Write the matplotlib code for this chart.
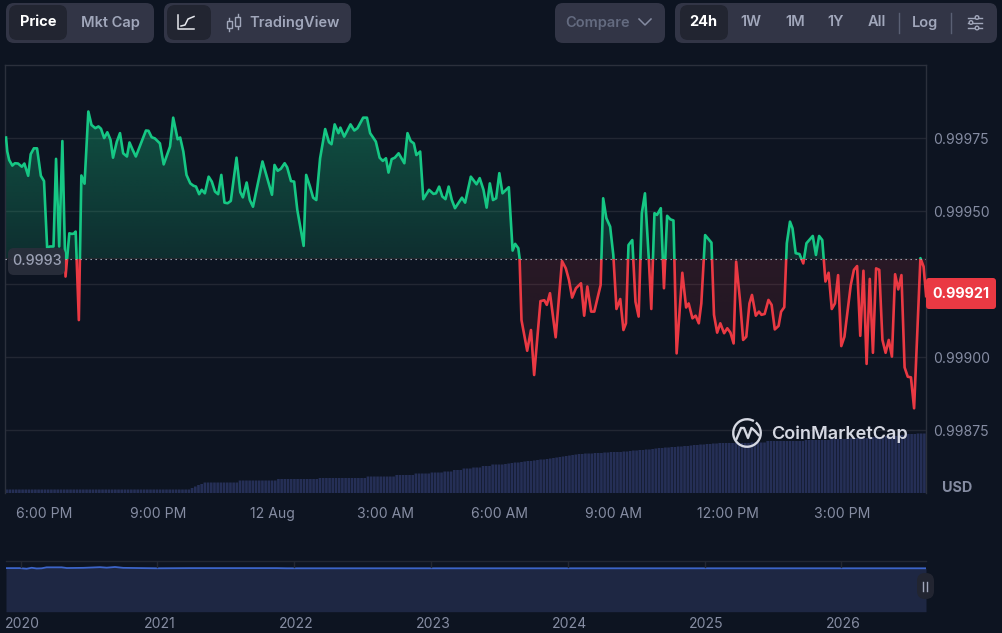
import numpy as np
import matplotlib
matplotlib.use("Agg")
import matplotlib.pyplot as plt
from matplotlib.patches import FancyBboxPatch, Rectangle, PathPatch, Arc, Circle
from matplotlib.transforms import ScaledTranslation
from matplotlib.colors import to_rgb

plt.rcParams['font.family'] = ['Inter', 'DejaVu Sans']

# minutes after 6:00 PM
minutes = [-60,-58,-55,-50,-46,-41,-35,-31,-25,-21,-16,-11,-5,0,5,9,15,19,24,29,34,40,44,47,50,55,59,64,70,75,81,86,90,95,100,105,109,115,120,125,131,135,140,145,161,165,170,175,183,189,
199,204,211,215,220,225,231,236,240,245,249,254,260,265,270,275,280,285,290,295,304,310,314,320,325,330,345,360,364,369,374,380,384,390,395,400,410,414,420,425,430,436,444,450,454,459,465,
468,474,484,490,495,504,510,515,524,530,535,540,544,549,554,560,569,574,579,584,588,594,599,608,615,619,624,629,634,639,644,649,660,665,674,683,688,694,699,704,709,714,719,724,734,740,744,749,751,754,
763,769,774,784,790,794,799,808,818,824,829,834,840,848,853,858,864,869,879,883,888,894,899,904,910,915,919,923,929,934,939,944,949,955,959,964,968,974,
979,984,989,994,999,1008,1014,1018,1024,1029,1034,1038,1044,1054,1058,1063,1068,1074,1079,1084,1089,1093,1099,1104,1109,1114,1118,1124,1129,1133,1138,1144,1149,1154,1160,1164,1169,1173,1178,
1182,1187,1193,1199,1204,1214,1219,1224,1229,1234,1239,1244,1249,1254,1259,1264,1274,1279,1284,1289,1294,1299,1304,1309,1314,1319,1324,1329,1334,1339,1344,1349,1354,1359,1364,1369,1374,1384,1389,1393]

# price, in units of 0.00001 above 0.998
price_tail = [175.3,170.5,167.6,165.7,166.5,166.4,165.3,166.4,162.2,169.6,171.6,171.6,162.2,160.4,137.4,138.0,138.0,168.0,138.0,174.1,127.7,142.5,142.3,142.4,143.1,112.8,162.3,159.5,184.2,179.6,178.5,179.1,178.3,175.1,177.1,174.5,168.4,173.9,176.8,169.9,168.8,173.6,171.1,168.8,177.7,177.6,175.4,175.0,173.3,166.1,
172.2,182.1,174.7,175.3,170.5,162.5,159.6,158.8,158.5,155.9,157.4,156.2,161.9,160.2,156.8,155.9,162.5,153.0,152.8,153.6,168.4,156.6,154.8,159.9,153.9,151.6,167.1,155.7,165.9,163.9,164.6,166.5,165.1,160.4,160.2,150.5,138.2,162.5,158.5,154.7,153.9,168.2,178.2,173.7,173.0,179.8,176.8,
178.7,175.6,179.8,177.7,178.5,182.1,182.1,176.8,173.9,168.4,167.3,168.2,163.3,167.9,168.4,169.9,166.5,176.8,174.1,173.3,169.3,170.5,154.2,157.4,156.0,156.2,158.5,155.1,154.2,158.5,153.9,151.1,154.7,153.0,161.9,159.3,161.4,157.4,151.3,159.6,153.9,154.5,163.1,156.2,158.3,136.6,138.9,137.4,134.0,112.8,
102.3,109.4,94.0,119.3,119.6,118.0,122.0,106.9,133.0,130.5,126.5,120.5,123.7,125.4,114.3,124.3,115.7,115.7,124.8,154.5,147.7,144.8,135.1,116.6,120.0,109.4,111.7,138.5,140.2,119.1,114.0,149.4,156.2,134.0,116.6,149.4,148.8,151.1,
123.7,148.5,147.3,146.9,101.4,129.0,117.1,118.5,113.4,114.3,111.7,118.5,141.9,139.3,114.6,108.5,111.7,108.3,110.0,108.5,104.8,132.8,119.7,106.0,107.1,118.5,121.4,114.3,115.7,114.6,114.9,119.7,118.0,109.6,110.8,115.7,117.2,139.1,146.5,
144.2,135.7,135.4,132.2,139.1,141.6,135.1,141.6,140.2,126.0,129.0,116.6,118.5,128.2,103.9,107.1,124.8,130.0,131.3,107.4,129.7,97.8,126.9,101.6,130.5,130.0,106.0,101.6,106.0,100.3,128.5,123.3,128.2,96.6,93.4,93.2,82.6,134.0,131.1,121.0]

open_tail = 133.8
last_price_label = "0.99921"
open_label = "0.9993"

# volume bars (arbitrary units): level and number of consecutive bars at it
volume_levels = [3.5,5,6.5,8,9,10.5,12.5,14,15,16.5,18,19.5,20.5,21.5,23,24.5,25.5,27,28.5,
 29,29.5,30,30.5,31,31.5,32,32.5,33,33.5,34,34.5,35,35.5,36,36.5,37,37.5,38,38.5,39,39.5,40,40.5,41,41.5,42,42.5,43,43.5,44,44.5,45,45.5,46,46.5,47,47.5,48,48.5,49,49.5,50,50.5,52,53,54,55,56,57,58,59,59.5]
volume_counts = [58,1,1,1,1,11,12,13,15,9,6,5,4,3,3,3,3,3,4,
 1,1,1,2,1,1,2,1,1,2,1,1,1,1,1,1,1,1,1,1,2,3,3,2,4,2,1,2,2,2,1,1,2,2,2,2,2,1,2,2,2,2,10,5,12,8,6,6,5,5,2,3,3]

y_ticks = [0.99875,0.99900,0.99925,0.99950,0.99975]
y_tick_labels = ["0.99875","0.99900","","0.99950","0.99975"]
x_tick_minutes = [0,180,360,540,720,900,1080,1260]
x_tick_labels = ["6:00 PM","9:00 PM","12 Aug","3:00 AM","6:00 AM","9:00 AM","12:00 PM","3:00 PM"]

overview_years = [2019.894,2019.996,2020.045,2020.082,2020.118,2020.155,2020.191,2020.301,2020.338,2020.459,2020.581,2020.63,2020.691,2020.751,2020.996,2021.239,2021.873,2021.946,2026.619]
overview_price = [1.004,1.004,0.990,1.012,0.996,1.0,1.022,1.022,1.006,1.010,1.026,1.014,1.030,1.010,1.0,1.004,1.004,1.0,1.0]
overview_ticks = [2020,2021,2022,2023,2024,2025,2026]

BG = "#0d1421"; GRID = "#222733"; BORDER = "#2b303c"; MUTED = "#858ca2"
GREEN = "#16c784"; RED = "#ea3943"; BAR = "#252f56"
W, H = 1002, 633
fig = plt.figure(figsize=(W/100, H/100), dpi=100, facecolor=BG)

def axes_px(x0, y0, x1, y1, **kw):
    return fig.add_axes([x0/W, 1-y1/H, (x1-x0)/W, (y1-y0)/H], **kw)

# ---- main price axes
ax = axes_px(5, 64.5, 926, 493, facecolor=BG)
t = np.array(minutes, float)
p = 0.998 + np.array(price_tail)*1e-5
base = 0.998 + open_tail*1e-5
xmin, xmax = -61.6, 1392.8
ymin, ymax = 0.998+53.6e-5, 0.998+200.3e-5

# volume on a twin scale
vol = np.repeat(volume_levels, volume_counts)
axv = ax.twinx()
axv.set_ylim(0, 428.5)
axv.axis("off")
ax.set_zorder(axv.get_zorder()+1)
ax.patch.set_visible(False)
axv.patch.set_visible(True); axv.patch.set_facecolor(BG)
step = (xmax-xmin)/len(vol)
bars = axv.bar(xmin+step*(np.arange(len(vol))+.5), vol, width=step*0.82, color=BAR, linewidth=0)
for b in bars:
    b.set_snap(False)
axv.set_xlim(xmin, xmax)

ax.set_xlim(xmin, xmax); ax.set_ylim(ymin, ymax)
ax.set_yticks(y_ticks); ax.set_yticklabels(y_tick_labels)
ax.yaxis.tick_right()
ax.set_xticks(x_tick_minutes); ax.set_xticklabels(x_tick_labels)
ax.tick_params(axis="both", length=0, colors=MUTED, labelsize=10.1)
ax.tick_params(axis="x", pad=9.8)
ax.tick_params(axis="y", pad=5)
ax.grid(axis="y", color=GRID, lw=1); ax.set_axisbelow(True)
for s, sp in ax.spines.items():
    sp.set_color(BORDER); sp.set_linewidth(1); sp.set_visible(s != "bottom")

# gradient areas between the line and the opening price
poly = ax.fill_between(t, p, base, color="none", lw=0)
clip = PathPatch(poly.get_paths()[0], transform=ax.transData, fc="none", ec="none")
ax.add_patch(clip)
def gradient(c, a_top, a_bot, y_top, y_bot):
    n = 128
    g = np.zeros((n, 2, 4)); g[..., :3] = to_rgb(c)
    g[..., 3] = np.linspace(a_top, a_bot, n)[:, None]
    im = ax.imshow(g, extent=(xmin, xmax, y_bot, y_top), aspect="auto", origin="upper", zorder=1.5, interpolation="bilinear")
    im.set_clip_path(clip)
gradient(GREEN, 0.34, 0.15, max(price_tail)*1e-5+0.998, base)
gradient(RED, 0.13, 0.06, base, min(price_tail)*1e-5+0.998)
ax.set_xlim(xmin, xmax); ax.set_ylim(ymin, ymax)

# price line, two colours either side of the opening price
for c, lo, hi in ((GREEN, base, ymax), (RED, ymin, base)):
    ln, = ax.plot(t, p, color=c, lw=1.9, solid_joinstyle="round", zorder=3)
    r = Rectangle((xmin, lo), xmax-xmin, hi-lo, transform=ax.transData)
    ln.set_clip_path(r)
ax.axhline(base, color="#aeb3c0", lw=0.8, ls=(0, (1.2, 3.3)), zorder=4)

# ---- overview axes
ov = axes_px(6, 561, 926, 611.7, facecolor=BG)
ov.set_xlim(overview_years[0], overview_years[-1]); ov.set_ylim(0, 1.168)
ov.fill_between(overview_years, overview_price, 0, color="#1e2743", lw=0)
ov.plot(overview_years, overview_price, color="#3c64c8", lw=1.3)
ov.set_xticks(overview_ticks); ov.set_xticklabels([str(y) for y in overview_ticks])
ov.set_yticks([])
ov.tick_params(axis="x", direction="in", length=0, colors=MUTED, labelsize=10.1, pad=3.5)
for lb in ov.get_xticklabels():
    lb.set_transform(lb.get_transform()+ScaledTranslation(2/100, 0, fig.dpi_scale_trans))
for s, sp in ov.spines.items():
    sp.set_visible(s == "top"); sp.set_color(GRID); sp.set_linewidth(1)
for y in overview_ticks:
    ov.plot([y, y], [1.04, 1.168], color=GRID, lw=1)

# ---- overlay: controls, labels and logo (page furniture)
ui = fig.add_axes([0, 0, 1, 1], zorder=20)
ui.set_xlim(0, W); ui.set_ylim(H, 0); ui.axis("off")

def box(x0, y0, x1, y1, c, r=8, **kw):
    ui.add_patch(FancyBboxPatch((x0+r, y0+r), x1-x0-2*r, y1-y0-2*r,
        boxstyle=f"round,pad={r},rounding_size={r}", fc=c, ec="none", **kw))
PANEL = "#323546"; ACTIVE = "#222531"; SOFT = "#a1a7bb"
def label(x, y, s, c=SOFT, size=10.5, w=600, ha="center", **kw):
    ui.text(x, y, s, color=c, fontsize=size, fontweight=w, ha=ha, va="center", **kw)

box(6, 3, 154, 43, PANEL); box(9, 5, 67, 40, ACTIVE)
label(38, 22.5, "Price", "#ffffff", w=700); label(110, 22.5, "Mkt Cap")
box(164, 3, 351, 43, PANEL); box(167, 5, 211, 40, ACTIVE)
label(249, 22.5, "TradingView", ha="left")
box(555, 3, 665, 43, PANEL)
label(565, 22.5, "Compare", "#646b80", ha="left")
ui.plot([639, 645, 651], [19, 25, 19], color="#858ca2", lw=1.1)
box(675, 3, 997, 43, PANEL); box(680, 5, 728, 40, ACTIVE)
label(703, 22.5, "24h", "#ffffff", w=700)
for x, s in zip([751, 795, 836, 877, 925], ["1W", "1M", "1Y", "All", "Log"]):
    label(x, 22.5, s)
for x in (899, 951):
    ui.plot([x, x], [13, 33], color="#5a6074", lw=1)
# line chart icon
ui.plot([178, 178, 194], [15, 29, 29], color="#e6e8ee", lw=1.1)
ui.plot([181, 185, 188, 194], [26, 25, 19, 16.5], color="#e6e8ee", lw=1.1)
# candle icon
for x, y0, y1 in ((229.5, 21, 28), (238, 17, 26)):
    ui.plot([x, x], [y0-3, y1+3], color=SOFT, lw=1)
    ui.add_patch(Rectangle((x-2.5, y0), 5, y1-y0, fc=PANEL, ec=SOFT, lw=1, zorder=3))
# settings icon
for y, cx in ((17.5, 977), (22.5, 971), (28, 977)):
    ui.plot([968, 982], [y, y], color=SOFT, lw=1)
    ui.add_patch(Circle((cx, y), 1.8, fc=PANEL, ec=SOFT, lw=1, zorder=3))

box(8, 248, 65, 275, "#2a2e3b", r=6, alpha=0.93)
label(37, 261, open_label, "#9aa0b3", size=10.4, w=500)
box(926, 278, 996, 309, RED, r=3)
label(961, 294, last_price_label, "#ffffff", size=10.3, w=700)
label(957.5, 487.5, "USD", MUTED, size=10.3, w=700)

# logo
LOGO = "#d5d8e2"
ui.add_patch(Arc((747, 433), 27.5, 27.5, theta1=-50, theta2=300, color=LOGO, lw=1.7))
ui.plot([736.5, 741, 744, 748, 751.5, 755, 758.5], [439, 428, 428, 438, 428, 431, 435], color=LOGO, lw=1.7, solid_joinstyle="round")
label(771, 434, "CoinMarketCap", LOGO, size=13.05, w=600, ha="left")

# pause control
box(917, 573, 934, 599, "#222531", r=8)
for x in (923.3, 926.7):
    ui.plot([x, x], [581.5, 591], color="#a1a7bb", lw=1)

fig.savefig("out.png", dpi=100, facecolor=BG)
